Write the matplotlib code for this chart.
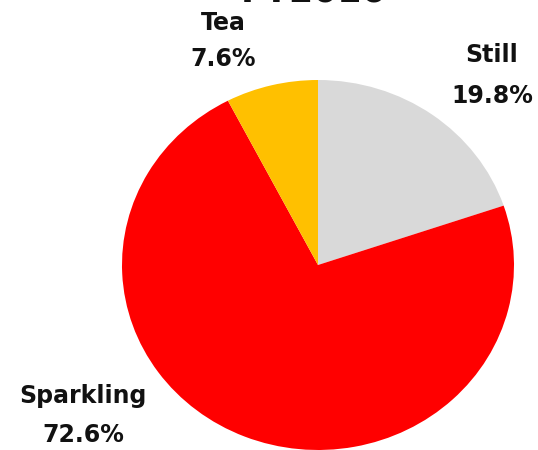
import matplotlib.pyplot as plt

# beverage mix share, percent
segments = ["Still", "Sparkling", "Tea"]
shares = [19.8, 72.6, 7.6]
seg_colors = ["#D9D9D9", "#FF0000", "#FFC000"]
title = "FY2016"

plt.rcParams["font.family"] = ["DejaVu Sans"]

fig = plt.figure(figsize=(5.38, 4.5), dpi=100)
ax = fig.add_axes([0, 0, 1, 1])

ax.pie(
    shares,
    colors=seg_colors,
    startangle=90,
    counterclock=False,
    radius=1,
    wedgeprops={"linewidth": 0},
)

# stretched a bit wider than tall, like the exported office chart
ax.set_aspect("auto")
ax.set_xlim(-318 / 196, 220 / 196)
ax.set_ylim(-185 / 185, 265 / 185)
ax.axis("off")

label_pos = {
    "Still": (492 / 538, 55 / 450, 96 / 450),
    "Sparkling": (83 / 538, 396 / 450, 435 / 450),
    "Tea": (223 / 538, 23 / 450, 59 / 450),
}
for name, val in zip(segments, shares):
    x, y1, y2 = label_pos[name]
    fig.text(x, 1 - y1, name, ha="center", va="center",
             fontsize=17, fontweight="bold", color="#111111")
    fig.text(x, 1 - y2, f"{val}%", ha="center", va="center",
             fontsize=17, fontweight="bold", color="#111111")

# title sits mostly above the top edge
fig.text(314 / 538, 1 - 2 / 450, title, ha="center", va="baseline",
         fontsize=25, fontweight="bold", color="#111111")

fig.savefig("out.png", dpi=100)
